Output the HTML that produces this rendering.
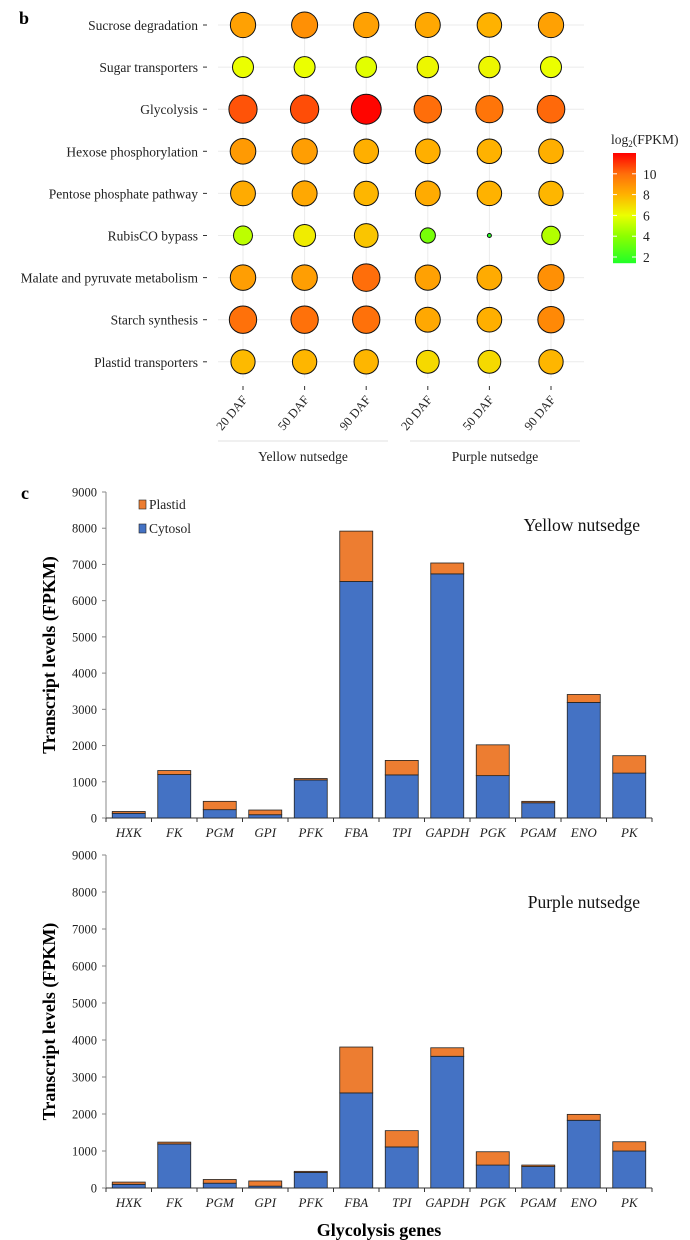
<!DOCTYPE html>
<html><head><meta charset="utf-8">
<style>
html,body{margin:0;padding:0;background:#fff;}
svg{display:block;font-family:"Liberation Serif",serif;}
</style></head>
<body>
<svg id="fig" width="690" height="1240" viewBox="0 0 690 1240" xmlns="http://www.w3.org/2000/svg">
<g id="bubble"></g>
<g id="bar1"></g>
<g id="bar2"></g>
</svg>
<script>
const NS="http://www.w3.org/2000/svg";
function mk(p,tag,attrs,txt){const e=document.createElementNS(NS,tag);for(const k in attrs)e.setAttribute(k,attrs[k]);if(txt!==undefined)e.textContent=txt;p.appendChild(e);return e;}

// ---- Bubble data ----
const pathways=["Sucrose degradation","Sugar transporters","Glycolysis","Hexose phosphorylation","Pentose phosphate pathway","RubisCO bypass","Malate and pyruvate metabolism","Starch synthesis","Plastid transporters"];
const samples=["20 DAF","50 DAF","90 DAF","20 DAF","50 DAF","90 DAF"];
const groups=["Yellow nutsedge","Purple nutsedge"];
const log2vals=[
 [8.5,9.0,8.5,8.3,8.0,8.5],
 [6.0,6.0,5.8,6.2,6.2,6.0],
 [10.5,10.6,11.9,10.0,9.8,10.1],
 [8.7,8.6,8.1,8.1,8.0,8.1],
 [8.2,8.3,7.9,8.2,8.0,7.9],
 [5.0,6.5,7.5,3.5,1.6,4.8],
 [8.6,8.6,10.0,8.5,8.2,9.0],
 [9.9,9.9,9.9,8.3,8.1,9.2],
 [7.8,7.9,7.9,7.0,7.0,7.9]];
const cbTicks=[2,4,6,8,10];

// ---- Bar data ----
const genes=["HXK","FK","PGM","GPI","PFK","FBA","TPI","GAPDH","PGK","PGAM","ENO","PK"];
const yellowCytosol=[130,1200,230,90,1050,6530,1190,6740,1170,420,3190,1240];
const yellowPlastid=[50,110,230,130,40,1390,400,300,850,40,220,480];
const purpleCytosol=[100,1190,130,50,420,2570,1110,3560,620,580,1830,1000];
const purplePlastid=[60,50,100,140,30,1240,440,230,360,40,160,250];
const yTicks=[0,1000,2000,3000,4000,5000,6000,7000,8000,9000];

// color scale
const cStops=[[1.4,[32,255,40]],[4,[140,255,0]],[6,[235,255,0]],[8,[255,178,0]],[10,[255,110,10]],[12,[255,0,0]]];
function colorOf(v){for(let i=0;i<cStops.length-1;i++){const a=cStops[i],b=cStops[i+1];if(v<=b[0]||i==cStops.length-2){let t=Math.max(0,Math.min(1,(v-a[0])/(b[0]-a[0])));return"rgb("+a[1].map((c,j)=>Math.round(c+(b[1][j]-c)*t)).join(",")+")";}}}
function rOf(v){return 2+13*Math.sqrt(Math.max(0,(v-1.6)/10.3));}

(function(){
const g=document.getElementById('bubble');
const colX=i=>243+i*61.6, rowY=j=>25+j*42.1;
const bt=mk(g,'text',{x:19,y:24,'font-size':18,'font-weight':'bold'},'b');

pathways.forEach((p,j)=>{const l=mk(g,'line',{x1:218,x2:584,y1:rowY(j),y2:rowY(j),stroke:'#ebebeb','stroke-width':1});});
samples.forEach((s,i)=>{const l=mk(g,'line',{x1:colX(i),x2:colX(i),y1:12,y2:378,stroke:'#ebebeb','stroke-width':1});});
pathways.forEach((p,j)=>{
 const t=mk(g,'text',{x:198,y:rowY(j)+5,'text-anchor':'end','font-size':13.5,fill:'#222'},p);
 
 mk(g,'line',{x1:203,x2:207,y1:rowY(j),y2:rowY(j),stroke:'#333'});
 samples.forEach((s,i)=>{const v=log2vals[j][i];
  const c=mk(g,'circle',{cx:colX(i),cy:rowY(j),r:rOf(v),fill:colorOf(v),stroke:'#111','stroke-width':1});
  });
});
samples.forEach((s,i)=>{
 mk(g,'line',{x1:colX(i),x2:colX(i),y1:386,y2:390,stroke:'#333'});
 const t=mk(g,'text',{x:0,y:0,'font-size':12.5,'text-anchor':'end',fill:'#222',transform:`translate(${colX(i)+5},${400}) rotate(-50)`},s);
 
});
[[218,388],[410,580]].forEach((r,k)=>{
 const l=mk(g,'line',{x1:r[0],x2:r[1],y1:441,y2:441,stroke:'#ebebeb','stroke-width':1.5});
 const t=mk(g,'text',{x:(r[0]+r[1])/2,y:461,'text-anchor':'middle','font-size':13.5,fill:'#222'},groups[k]);
 
});
// colorbar
const cb=mk(g,'g',{});
const cy=v=>257-(v-2)*10.4;
for(let y=153;y<263;y+=1){mk(cb,'rect',{x:613,y:y,width:23,height:1.2,fill:colorOf(2+(257-y-0.5)/10.4)});}
const ct=mk(cb,'text',{x:611,y:144,'font-size':13.5,fill:'#222'});
ct.innerHTML='log<tspan font-size="9" dy="3">2</tspan><tspan dy="-3">(FPKM)</tspan>';

cbTicks.forEach(v=>{mk(cb,'line',{x1:613,x2:617,y1:cy(v),y2:cy(v),stroke:'#fff'});mk(cb,'line',{x1:632,x2:636,y1:cy(v),y2:cy(v),stroke:'#fff'});
 const t=mk(cb,'text',{x:643,y:cy(v)+5,'font-size':13.5,fill:'#222'},String(v));});
})();

function barChart(id,top,bottom,cyt,pla,title,titleY,opts){
 const g=document.getElementById(id);
 const x0=106,x1=652,bw=(x1-x0)/genes.length;
 const sy=v=>bottom-(v/9000)*(bottom-top);
 mk(g,'line',{x1:x0,x2:x0,y1:top,y2:bottom,stroke:'#888','stroke-width':1});
 mk(g,'line',{x1:x0,x2:x1,y1:bottom,y2:bottom,stroke:'#333','stroke-width':1});
 yTicks.forEach(v=>{mk(g,'line',{x1:x0-4,x2:x0,y1:sy(v),y2:sy(v),stroke:'#888'});
  const t=mk(g,'text',{x:x0-9,y:sy(v)+4.5,'text-anchor':'end','font-size':12.5,fill:'#222'},String(v));
  });
 for(let i=0;i<=genes.length;i++)mk(g,'line',{x1:x0+i*bw,x2:x0+i*bw,y1:bottom,y2:bottom+4,stroke:'#333'});
 genes.forEach((gn,i)=>{
  const cx=x0+(i+0.5)*bw,w=33;
  const r1=mk(g,'rect',{x:cx-w/2,y:sy(cyt[i]),width:w,height:sy(0)-sy(cyt[i]),fill:'#4472c4',stroke:'#222','stroke-width':0.8});
  
  const tot=cyt[i]+pla[i];
  const r2=mk(g,'rect',{x:cx-w/2,y:sy(tot),width:w,height:sy(cyt[i])-sy(tot),fill:'#ed7d31',stroke:'#222','stroke-width':0.8});
  
  const t=mk(g,'text',{x:cx,y:bottom+19,'text-anchor':'middle','font-size':13,'font-style':'italic',fill:'#222'},gn);
  
 });
 const yl=mk(g,'text',{x:0,y:0,'text-anchor':'middle','font-size':18,'font-weight':'bold',transform:`translate(55,${(top+bottom)/2}) rotate(-90)`},'Transcript levels (FPKM)');
 
 const tt=mk(g,'text',{x:640,y:titleY,'text-anchor':'end','font-size':17.5,fill:'#111'},title);
 
 if(opts.legend){
  const lg=mk(g,'g',{});
  mk(lg,'rect',{x:139,y:500,width:7,height:9,fill:'#ed7d31',stroke:'#222','stroke-width':0.6});
  mk(lg,'text',{x:149,y:509,'font-size':13.5,fill:'#222'},'Plastid');
  mk(lg,'rect',{x:139,y:524,width:7,height:9,fill:'#4472c4',stroke:'#222','stroke-width':0.6});
  mk(lg,'text',{x:149,y:533,'font-size':13.5,fill:'#222'},'Cytosol');
  const c=mk(g,'text',{x:21,y:499,'font-size':18,'font-weight':'bold'},'c');
 }
 if(opts.xtitle){const xt=mk(g,'text',{x:379,y:1236,'text-anchor':'middle','font-size':18,'font-weight':'bold'},'Glycolysis genes');
  }
}
barChart('bar1',492,818,yellowCytosol,yellowPlastid,'Yellow nutsedge',531,{legend:true});
barChart('bar2',855,1188,purpleCytosol,purplePlastid,'Purple nutsedge',908,{xtitle:true});
</script>
</body></html>
